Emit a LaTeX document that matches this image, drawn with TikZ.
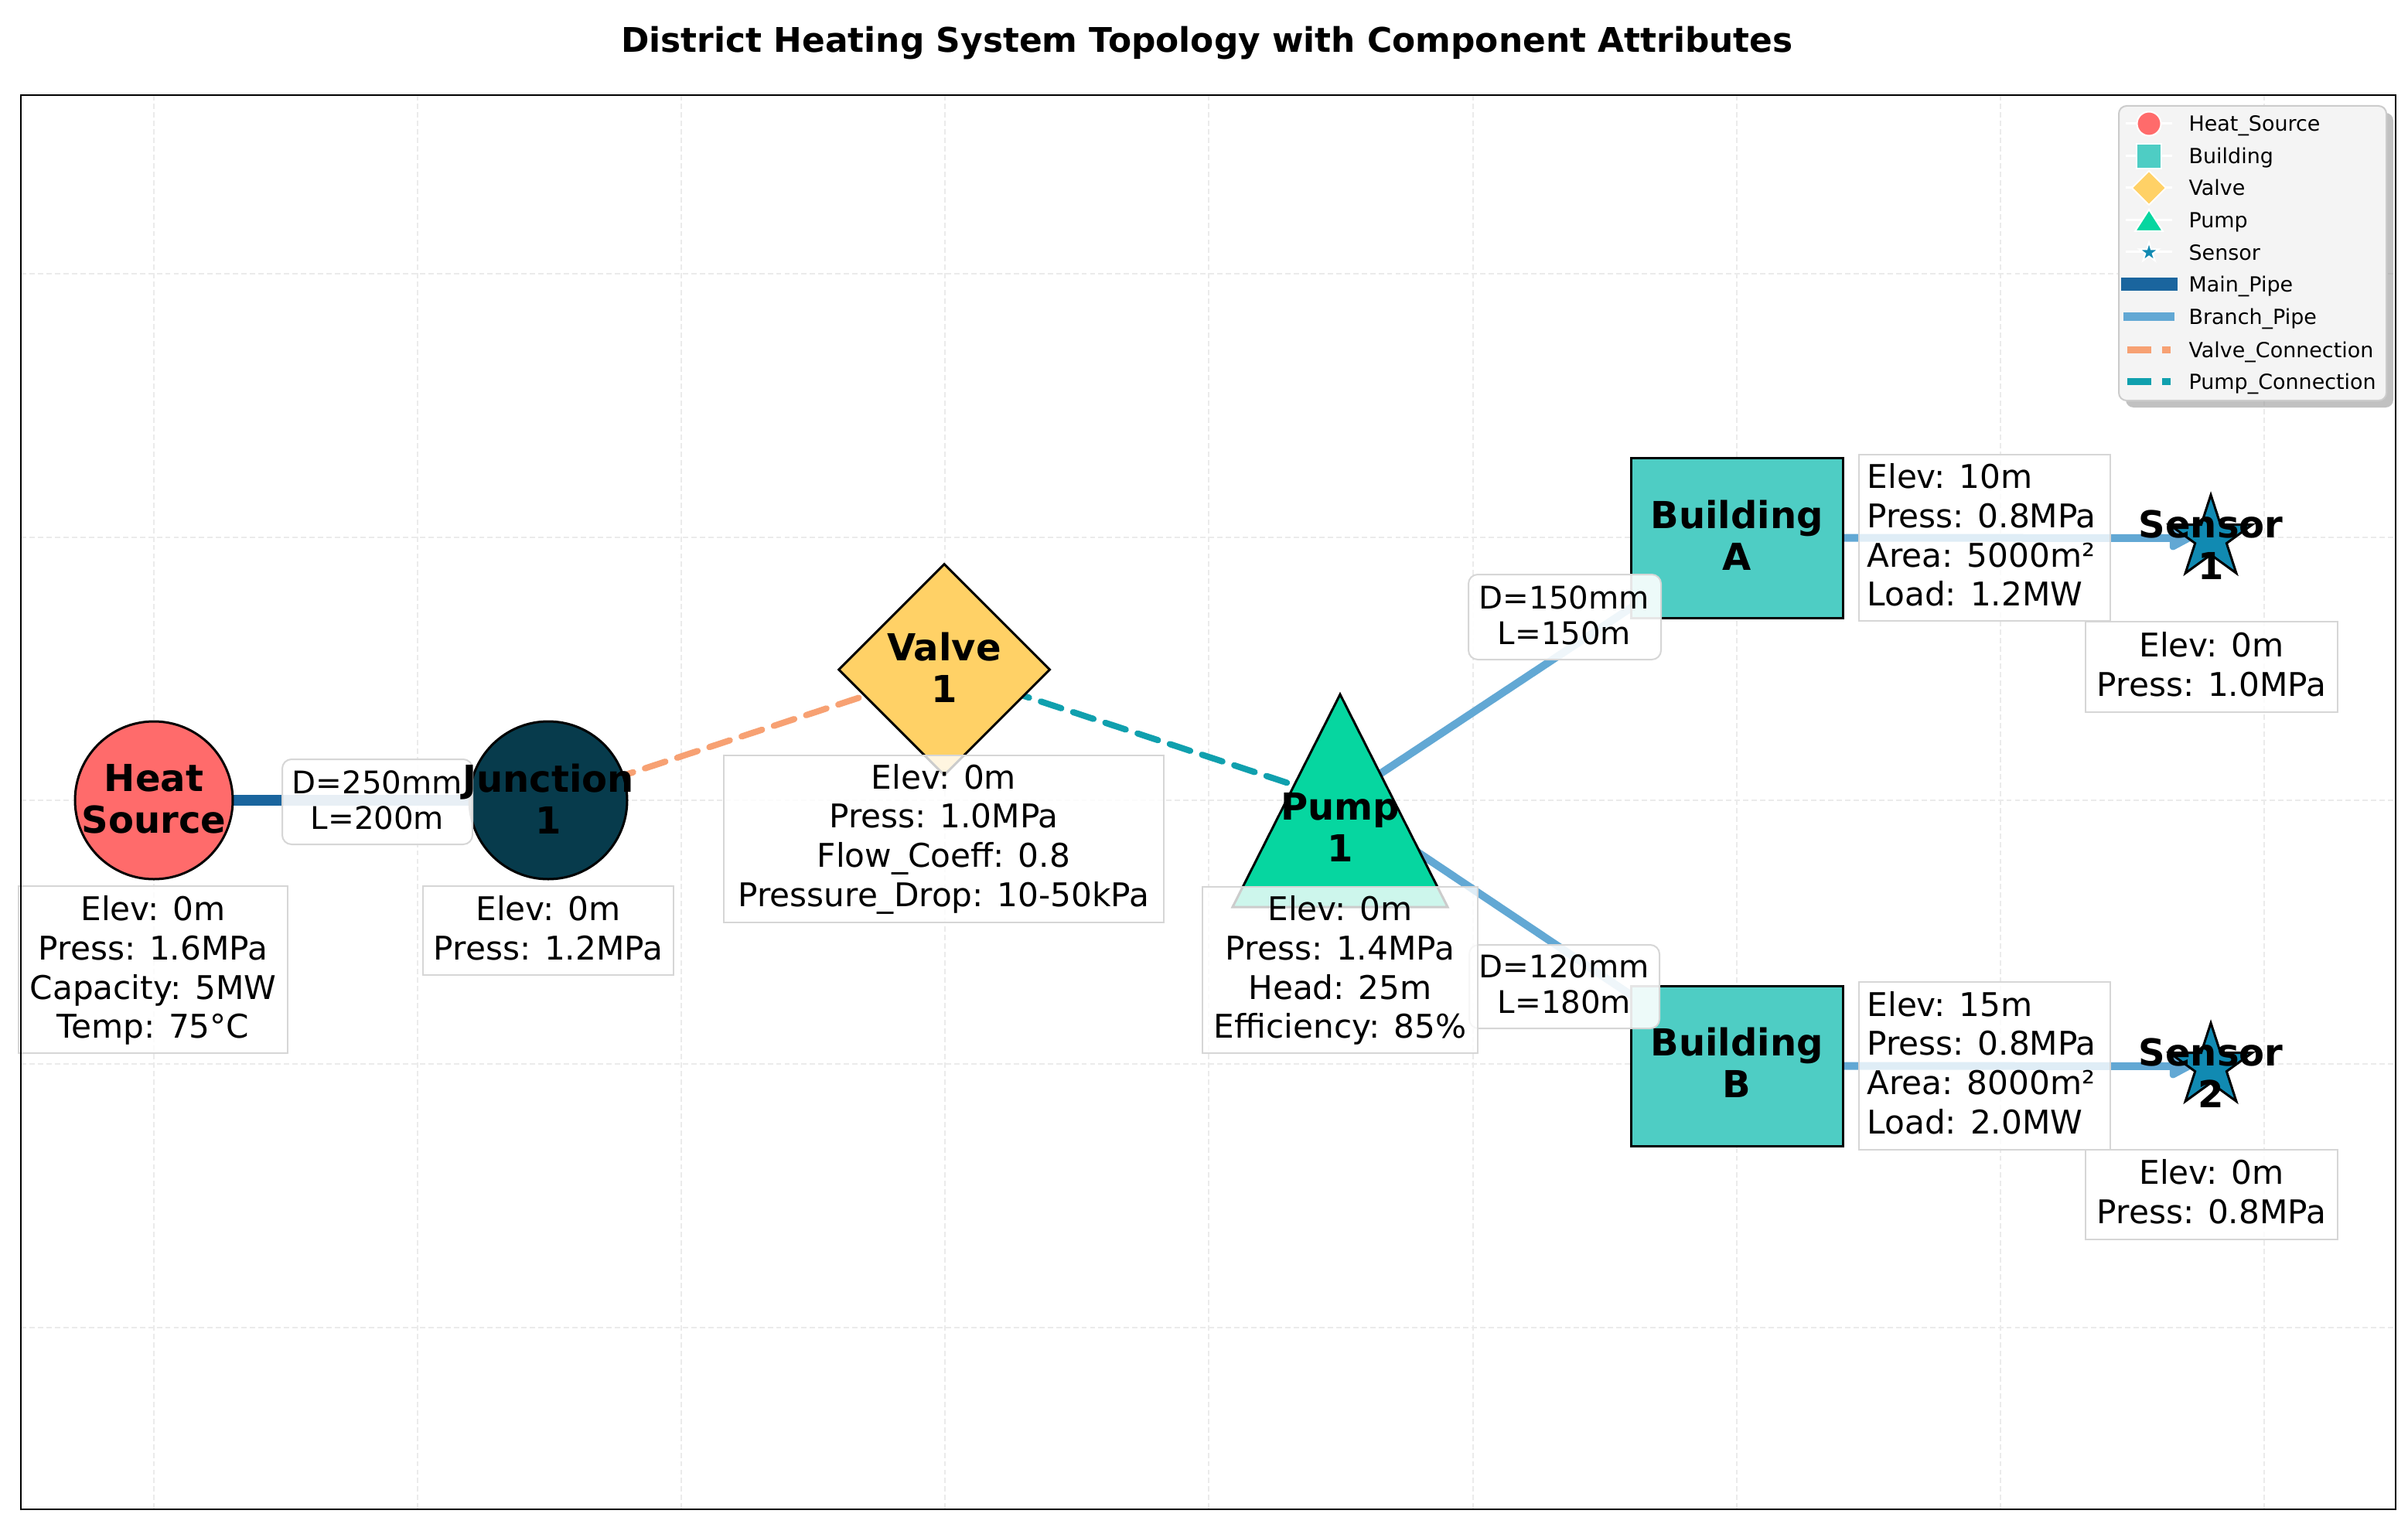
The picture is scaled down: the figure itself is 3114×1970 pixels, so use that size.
\documentclass[tikz,border=0pt]{standalone}
\usepackage{fontspec}
\setmainfont{DejaVu Sans}
\usetikzlibrary{shapes.geometric,arrows.meta,calc}
\newdimen\pxu \pxu=0.36pt
\definecolor{hscol}{HTML}{FF6B6B}
\definecolor{jcol}{HTML}{073B4C}
\definecolor{vcol}{HTML}{FFD166}
\definecolor{pcol}{HTML}{06D6A0}
\definecolor{bcol}{HTML}{4ECDC4}
\definecolor{scol}{HTML}{118AB2}
\definecolor{maincol}{HTML}{1A659E}
\definecolor{branchcol}{HTML}{62A8D4}
\definecolor{valvecol}{HTML}{F7A173}
\definecolor{pumpcol}{HTML}{10A0AE}
\definecolor{gridcol}{HTML}{EBEBEB}
\definecolor{boxedge}{HTML}{D6D6D6}
\definecolor{legfill}{HTML}{F4F4F4}
\definecolor{legedge}{HTML}{CCCCCC}
\pgfdeclarelayer{bg}
\pgfsetlayers{bg,main}
\tikzset{
  nodeedge/.style={draw=black, line width=3\pxu},
  namelabel/.style={font=\bfseries\fontsize{17.3}{19.4}\selectfont, align=center, inner sep=0pt},
  attrtext/.style={font=\fontsize{15.2}{18.25}\selectfont, inner sep=0pt},
  attrbox/.style={fill=white, fill opacity=0.8, draw=boxedge, line width=2\pxu},
  pipelabel/.style={font=\fontsize{14.5}{16.6}\selectfont, align=center, inner sep=0pt},
  pipebox/.style={fill=white, fill opacity=0.9, draw=boxedge, line width=2\pxu, rounded corners=4.3pt},
  mainpipe/.style={draw=maincol, line width=14\pxu},
  branchpipe/.style={draw=branchcol, line width=10\pxu},
  sensorpipe/.style={draw=branchcol, fill=branchcol, line width=10\pxu, -{Triangle[length=12.6pt,width=12.2pt,round]}, shorten >=8.6pt},
  valveconn/.style={draw=valvecol, line width=8\pxu, line cap=round, dash pattern=on 10pt off 5.8pt},
  pumpconn/.style={draw=pumpcol, line width=8\pxu, line cap=round, dash pattern=on 10pt off 5.8pt},
  gridline/.style={draw=gridcol, line width=2\pxu, dash pattern=on 2.5pt off 1.45pt},
  legtext/.style={font=\fontsize{9.7}{11.6}\selectfont, inner sep=0pt, anchor=base west},
  legmark/.style={draw=white, line width=2\pxu},
  anchorpt/.style={inner sep=0pt, minimum size=0pt},
}
\begin{document}
\begin{tikzpicture}[x=0.36pt, y=-0.36pt]
\useasboundingbox (0,0) rectangle (3114,1970);

% background and grid
\begin{pgfonlayer}{bg}
\fill[white] (0,0) rectangle (3114,1970);
\foreach \gx in {199,540.1,881.2,1222.3,1563.4,1904.5,2245.6,2586.7,2927.8}
  \draw[gridline] (\gx,123) -- (\gx,1952);
\foreach \gy in {353.6,694.5,1035,1376,1717}
  \draw[gridline] (27,\gy) -- (3098,\gy);
\end{pgfonlayer}

% title
\node[font=\bfseries\fontsize{15.8}{19}\selectfont, anchor=base, inner sep=0pt] (title) at (1561,68) {District Heating System Topology with Component Attributes};

% component shapes
\node[circle, nodeedge, fill=hscol, minimum size=204\pxu, inner sep=0pt] (hs) at (199,1035) {};
\node[circle, nodeedge, fill=jcol, minimum size=204\pxu, inner sep=0pt] (j1) at (709,1035) {};
\node[diamond, nodeedge, fill=vcol, minimum width=274\pxu, minimum height=274\pxu, inner sep=0pt] (v1) at (1221,866) {};
\node[anchorpt] (p1) at (1733,1035) {};
\filldraw[nodeedge, fill=pcol, line join=miter, shift={(p1)}] (0,-137) -- (139,138) -- (-139,138) -- cycle;
\node[rectangle, nodeedge, fill=bcol, minimum width=274\pxu, minimum height=207\pxu, inner sep=0pt] (ba) at (2246,695.5) {};
\node[rectangle, nodeedge, fill=bcol, minimum width=274\pxu, minimum height=207\pxu, inner sep=0pt] (bb) at (2246,1378.5) {};
\node[anchorpt] (s1) at (2859,696) {};
\node[anchorpt] (s2) at (2859,1379) {};

% pipes (behind the components)
\begin{pgfonlayer}{bg}
\draw[mainpipe] (hs.center) -- (j1.center);
\draw[valveconn] (j1.center) -- (v1.center);
\draw[pumpconn] (v1.center) -- (p1.center);
\draw[branchpipe] (p1.center) -- (ba.center);
\draw[branchpipe] (p1.center) -- (bb.center);
\draw[sensorpipe] (ba.east) -- (s1.center);
\draw[sensorpipe] (bb.east) -- (s2.center);
\end{pgfonlayer}

% sensor stars
\foreach \s in {s1,s2}
  \filldraw[nodeedge, fill=scol, line join=miter, shift={(\s)}]
    (0,-56) -- (12.58,-17.31) -- (53.26,-17.30) -- (20.35,6.61) -- (32.92,45.30)
    -- (0,21.4) -- (-32.92,45.30) -- (-20.35,6.61) -- (-53.26,-17.30) -- (-12.58,-17.31) -- cycle;

% pipe labels
\draw[pipebox] (365,982) rectangle (611,1092);
\node[pipelabel] (e1) at (488,1034.5) {D=250mm\\L=200m};
\draw[pipebox] (1899,743) rectangle (2148,853);
\node[pipelabel] (e2) at (2023,796) {D=150mm\\L=150m};
\draw[pipebox] (1900,1222) rectangle (2146,1330);
\node[pipelabel] (e3) at (2023,1273) {D=120mm\\L=180m};

% component names
\node[namelabel] (hsl) at (199,1033) {Heat\\Source};
\node[namelabel] (j1l) at (709,1033) {Junction\\1};
\node[namelabel] (v1l) at (1221,863) {Valve\\1};
\node[namelabel] (p1l) at (1733,1070) {Pump\\1};
\node[namelabel] (bal) at (2246,692) {Building\\A};
\node[namelabel] (bbl) at (2246,1374) {Building\\B};
\node[namelabel] (s1l) at (2859,705) {Sensor\\1};
\node[namelabel] (s2l) at (2859,1388) {Sensor\\2};

% attribute boxes
\draw[attrbox] (24,1146) rectangle (372,1362);
\node[attrtext, align=center] (hsa) at (198,1255) {Elev: 0m\\Press: 1.6MPa\\Capacity: 5MW\\Temp: 75°C};
\draw[attrbox] (547,1146) rectangle (871,1261);
\node[attrtext, align=center] (j1a) at (709,1200) {Elev: 0m\\Press: 1.2MPa};
\draw[attrbox] (936,977) rectangle (1505,1193);
\node[attrtext, align=center] (v1a) at (1220.5,1085) {Elev: 0m\\Press: 1.0MPa\\Flow\_Coeff: 0.8\\Pressure\_Drop: 10-50kPa};
\draw[attrbox] (1555,1147) rectangle (1911,1362);
\node[attrtext, align=center] (p1a) at (1733,1255) {Elev: 0m\\Press: 1.4MPa\\Head: 25m\\Efficiency: 85\%};
\draw[attrbox] (2404,588) rectangle (2729,803);
\node[attrtext, align=left, anchor=west] (baa) at (2414,692) {Elev: 10m\\Press: 0.8MPa\\Area: 5000m²\\Load: 1.2MW};
\draw[attrbox] (2404,1270) rectangle (2729,1487);
\node[attrtext, align=left, anchor=west] (bba) at (2414,1374.5) {Elev: 15m\\Press: 0.8MPa\\Area: 8000m²\\Load: 2.0MW};
\draw[attrbox] (2697,804) rectangle (3023,921);
\node[attrtext, align=center] (s1a) at (2860,859) {Elev: 0m\\Press: 1.0MPa};
\draw[attrbox] (2697,1487) rectangle (3023,1603);
\node[attrtext, align=center] (s2a) at (2860,1541) {Elev: 0m\\Press: 0.8MPa};

% legend
\fill[black!40, opacity=0.6, rounded corners=3.6pt] (2749,146) rectangle (3095,527);
\filldraw[fill=legfill, draw=legedge, line width=2\pxu, rounded corners=3.6pt] (2740,137) rectangle (3086,518);
\foreach \ly in {160,202,243,285,326}
  \draw[white, line width=3\pxu] (2749,\ly) -- (2809,\ly);
\filldraw[legmark, fill=hscol] (2779,160) circle (15.5);
\filldraw[legmark, fill=bcol] (2763,186) rectangle (2795,218);
\filldraw[legmark, fill=vcol] (2779,221) -- (2801,243) -- (2779,265) -- (2757,243) -- cycle;
\filldraw[legmark, fill=pcol] (2779,271) -- (2797,299) -- (2761,299) -- cycle;
\filldraw[legmark, fill=scol, shift={(2779,326.5)}, scale=0.235]
    (0,-56) -- (12.58,-17.31) -- (53.26,-17.30) -- (20.35,6.61) -- (32.92,45.30)
    -- (0,21.4) -- (-32.92,45.30) -- (-20.35,6.61) -- (-53.26,-17.30) -- (-12.58,-17.31) -- cycle;
\draw[maincol, line width=17\pxu] (2743,367) -- (2816,367);
\draw[branchcol, line width=11\pxu] (2746,409) -- (2812,409);
\draw[valvecol, line width=9\pxu, dash pattern=on 11.2pt off 5pt] (2751,452) -- (2807,452);
\draw[pumpcol, line width=9\pxu, dash pattern=on 11.2pt off 5pt] (2751,493) -- (2807,493);
\node[legtext] (lg1) at (2830,170) {Heat\_Source};
\node[legtext] (lg2) at (2830,212) {Building};
\node[legtext] (lg3) at (2830,253) {Valve};
\node[legtext] (lg4) at (2830,295) {Pump};
\node[legtext] (lg5) at (2830,336) {Sensor};
\node[legtext] (lg6) at (2830,377) {Main\_Pipe};
\node[legtext] (lg7) at (2830,419) {Branch\_Pipe};
\node[legtext] (lg8) at (2830,462) {Valve\_Connection};
\node[legtext] (lg9) at (2830,503) {Pump\_Connection};

% frame
\draw[black, line width=2.5\pxu] (27,123) rectangle (3098,1952);
\end{tikzpicture}
\end{document}
